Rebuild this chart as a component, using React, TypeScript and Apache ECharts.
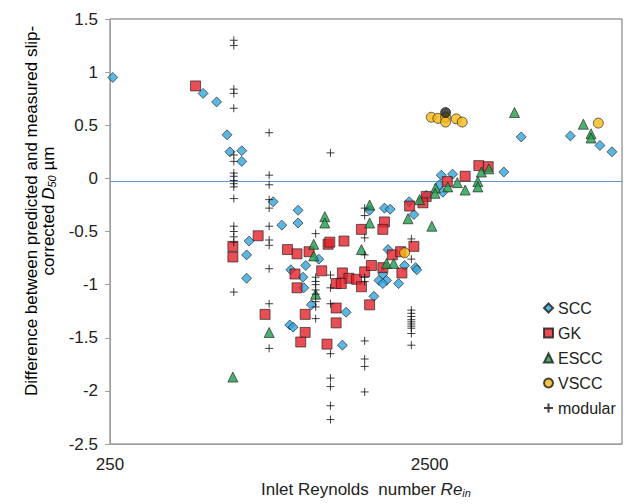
import React, { useEffect, useRef } from 'react';
import * as echarts from 'echarts';

// Inlet Reynolds number (x) vs difference in slip-corrected D50 (µm)
const xTickValues = [250, 2500];

const scc: [number, number][] = [
  [255, 0.95], [489, 0.80], [539, 0.72], [581, 0.41], [593, 0.25], [646, 0.26], [646, 0.16],
  [681, -0.59], [669, -0.72], [669, -0.94], [810, -0.22], [862, -0.44], [969, -0.30], [969, -0.42],
  [1125, -0.76], [1024, -0.82], [920, -0.86], [1004, -0.93], [1010, -1.03], [1067, -1.19],
  [913, -1.38], [935, -1.40], [1334, -1.57], [1370, -1.26], [1674, -1.11], [1736, -0.96],
  [1833, -0.96], [1785, -0.99], [1785, -0.90], [2000, -0.99], [1853, -0.67], [2088, -0.82],
  [2260, -0.84], [2280, -0.86], [1623, -0.30], [1806, -0.28], [1882, -0.29], [2158, -0.22],
  [2233, -0.34], [2440, -0.16], [2686, -0.06], [2750, -0.13], [2720, 0.03], [2950, 0.04],
  [4268, 0.06], [4837, 0.39], [6895, 0.40], [8530, 0.31], [9300, 0.25],
];

const gk: [number, number][] = [
  [463, 0.87], [606, -0.64], [606, -0.74], [727, -0.54], [764, -1.28], [898, -0.67], [962, -0.71],
  [1049, -0.69], [1203, -0.62], [1218, -0.60], [1149, -0.87], [948, -0.90], [962, -1.03],
  [1020, -1.28], [1020, -1.45], [988, -1.54], [1194, -1.56], [1275, -0.99], [1275, -1.22],
  [1275, -1.36], [1334, -0.89], [1349, -0.59], [1398, -0.94], [1478, -0.95], [1323, -0.99],
  [1530, -1.02], [1566, -0.88], [1644, -0.82], [1623, -1.19], [1530, -0.48], [1806, -0.41],
  [1785, -0.48], [1785, -0.84], [1911, -0.72], [2028, -0.69], [2233, -0.64], [2048, -0.89],
  [2165, -0.26], [2440, -0.17], [2383, -0.23], [2840, -0.03], [3230, 0.02], [3565, 0.12],
  [3813, 0.11],
];

const escc: [number, number][] = [
  [606, -1.87], [787, -1.45], [1175, -0.36], [1175, -0.42], [1085, -0.62], [1085, -0.73],
  [1100, -1.09], [1530, -0.67], [1623, -0.25], [1623, -0.42], [1833, -0.80], [1930, -0.80],
  [2139, -0.38], [2326, -0.20], [2541, -0.45], [2610, -0.09], [2600, -0.14], [3053, -0.04],
  [2850, -0.08], [3230, -0.11], [3540, -0.03], [3540, -0.08], [3630, 0.06], [3830, 0.09],
  [4610, 0.62], [7569, 0.51], [8000, 0.42], [8000, 0.38],
];

const vscc: [number, number][] = [
  [2531, 0.575], [2655, 0.565], [2805, 0.575], [2805, 0.53], [3030, 0.56], [3163, 0.53],
  [8433, 0.52], [2088, -0.70],
];

const vsccDark: [number, number][] = [[2805, 0.62]];

const modular: [number, number][] = [
  [610, 1.30], [610, 1.25], [610, 0.84], [610, 0.80], [610, 0.66], [610, 0.22], [610, 0.16],
  [610, 0.05], [610, 0.02], [610, -0.02], [610, -0.05], [610, -0.08], [610, -0.19], [610, -0.45],
  [610, -0.50], [610, -0.55], [610, -0.60], [610, -1.07],
  [787, 0.43], [787, 0.03], [787, -0.06], [787, -0.20], [787, -0.28], [787, -0.45], [787, -0.58],
  [787, -0.63], [787, -0.85], [787, -1.18], [787, -1.60],
  [1100, -0.52], [1100, -0.93], [1100, -0.97], [1100, -1.00], [1100, -1.05], [1100, -1.09],
  [1100, -1.16], [1100, -1.21], [1100, -1.32],
  [1224, 0.24], [1224, -0.91], [1224, -1.03], [1224, -1.18], [1224, -1.65], [1224, -1.88],
  [1224, -1.96], [1224, -2.14], [1224, -2.27],
  [1566, -0.28], [1566, -0.35], [1566, -0.56], [1566, -0.72], [1566, -0.93], [1566, -0.97],
  [1566, -1.53], [1566, -1.70], [1566, -1.77], [1566, -2.01],
  [2192, -0.57], [2192, -0.76], [2192, -1.24], [2192, -1.27], [2192, -1.30], [2192, -1.33],
  [2192, -1.35], [2192, -1.37], [2192, -1.39], [2192, -1.41], [2192, -1.46], [2192, -1.57],
];

const referenceLine = -0.03;

const FONT = '"Liberation Sans", Arial, sans-serif';
const PLUS = 'path://M0,5L10,5M5,0L5,10';
const TXT = '#222';

export default function App() {
  const ref = useRef<HTMLDivElement>(null);
  useEffect(() => {
    if (!ref.current) return;
    const chart = echarts.init(ref.current, undefined, { renderer: 'svg' });
    const border = { borderColor: '#1a1a1a', borderWidth: 0.8 };
    const nameRich = {
      a: { fontSize: 17, color: TXT, fontFamily: FONT, lineHeight: 17 },
      i: { fontSize: 17, color: TXT, fontFamily: FONT, fontStyle: 'italic', lineHeight: 17 },
      s: { fontSize: 11, color: TXT, fontFamily: FONT, fontStyle: 'italic', verticalAlign: 'bottom', lineHeight: 12 },
    };
    chart.setOption({
      animation: false,
      backgroundColor: '#fff',
      textStyle: { fontFamily: FONT },
      grid: { left: 110, right: 5, top: 19, bottom: 60, show: true, borderColor: '#6e6e6e', borderWidth: 1, outerBoundsMode: 'none' },
      xAxis: {
        type: 'log',
        logBase: 10,
        min: 250,
        max: 10000,
        splitLine: { show: false },
        axisLine: { show: true, onZero: false, lineStyle: { color: '#a0a0a0', width: 1 } },
        axisTick: { show: false },
        minorTick: { show: false },
        axisLabel: {
          customValues: xTickValues, fontSize: 17, color: TXT, margin: 12, fontFamily: FONT,
          formatter: (v: number) => String(Math.round(v)),
        },
        name: '{a|Inlet Reynolds  number }{i|Re}{s|in}',
        nameLocation: 'middle',
        nameGap: 37,
        nameTextStyle: { rich: nameRich },
      },
      yAxis: {
        type: 'value',
        min: -2.5,
        max: 1.5,
        interval: 0.5,
        splitLine: { show: false },
        axisLine: { show: true, lineStyle: { color: '#a0a0a0', width: 1 } },
        axisTick: { show: true, inside: false, length: 5, lineStyle: { color: '#a0a0a0' } },
        axisLabel: { fontSize: 17, color: TXT, margin: 12, fontFamily: FONT },
      },
      graphic: [
        {
          type: 'text',
          x: 40,
          y: 211,
          rotation: Math.PI / 2,
          style: {
            text: '{a|Difference between predicted and measured slip-}\n{a|corrected }{i|D}{s|50}{a| µm}',
            align: 'center',
            verticalAlign: 'middle',
            rich: nameRich,
          },
        },
      ],
      legend: {
        orient: 'vertical',
        left: 538,
        top: 295,
        itemWidth: 9,
        itemHeight: 9,
        itemGap: 9,
        textStyle: { fontSize: 16, color: TXT, fontFamily: FONT },
        data: ['SCC', 'GK', 'ESCC', 'VSCC', 'modular'],
      },
      series: [
        {
          name: 'SCC', type: 'scatter', data: scc, symbol: 'diamond', symbolSize: 10,
          itemStyle: { color: '#33a4db', ...border },
          markLine: {
            silent: true, symbol: 'none', label: { show: false }, z: 1,
            lineStyle: { color: '#6a93c8', width: 1.2, type: 'solid', opacity: 1 },
            emphasis: { disabled: true },
            data: [{ yAxis: referenceLine }],
          },
        },
        { name: 'GK', type: 'scatter', data: gk, symbol: 'rect', symbolSize: 10, itemStyle: { color: '#e3222b', ...border } },
        { name: 'ESCC', type: 'scatter', data: escc, symbol: 'triangle', symbolSize: 10, itemStyle: { color: '#1f9d4b', ...border } },
        { name: 'VSCC', type: 'scatter', data: vscc, symbol: 'circle', symbolSize: 10, itemStyle: { color: '#f6b816', ...border } },
        { name: 'VSCC-dark', type: 'scatter', data: vsccDark, symbol: 'circle', symbolSize: 10, itemStyle: { color: '#222', ...border } },
        {
          name: 'modular', type: 'scatter', data: modular, symbol: PLUS, symbolSize: 8,
          itemStyle: { color: '#111', borderColor: '#111', borderWidth: 1 },
        },
      ],
    });
    return () => chart.dispose();
  }, []);
  return <div ref={ref} style={{ position: 'fixed', left: 0, top: 0, width: 627, height: 504 }} />;
}
